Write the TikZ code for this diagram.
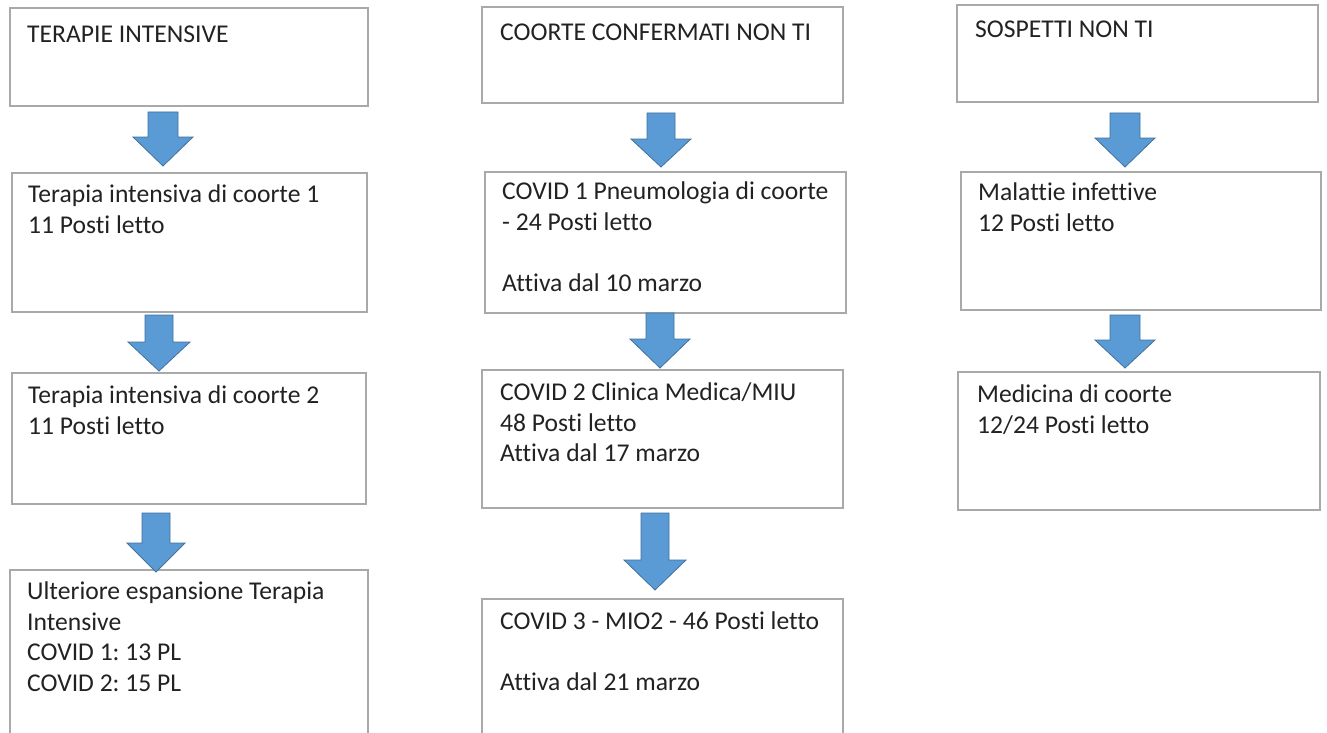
\documentclass[tikz,border=0pt]{standalone}
\usepackage{fontspec}
\setmainfont{Carlito}[Ligatures=NoCommon]
\frenchspacing
\definecolor{boxline}{HTML}{A9A9A9}
\definecolor{arrfill}{HTML}{5B9BD5}
\definecolor{arrline}{HTML}{41719C}
\definecolor{txt}{HTML}{222222}
\tikzset{
  box/.style={draw=boxline, line width=1.6pt, fill=white},
  lbl/.style={anchor=north west, inner sep=0pt, align=left, text=txt,
    font=\fontsize{25.6}{30.5}\selectfont,
    execute at begin node={\rule{0pt}{20pt}}},
  blockarr/.style={fill=arrfill, draw=arrline, line width=0.8pt, line join=miter}
}
% #1 cx, #2 top, #3 head start, #4 tip, #5 shaft half, #6 head half
\newcommand{\blockarrow}[6]{%
  \filldraw[blockarr] (#1-#5,#2) -- (#1+#5,#2) -- (#1+#5,#3) -- (#1+#6,#3)
    -- (#1,#4) -- (#1-#6,#3) -- (#1-#5,#3) -- cycle;}
% label whose first baseline is at (#2,#3)
\newcommand{\boxtext}[4]{\node[lbl] (#1) at (#2,#3-20) {#4};}
\begin{document}
\begin{tikzpicture}[x=1pt,y=-1pt]
\useasboundingbox (0,0) rectangle (1327,733);
\fill[white] (0,0) rectangle (1327,733);
\clip (0,0) rectangle (1327,733);

% column 1
\draw[box] (10,8) rectangle (368,106);
\boxtext{tA1}{27}{42}{TERAPIE INTENSIVE}
\draw[box] (12,173) rectangle (367,312);
\boxtext{tA2}{28}{205}{Terapia intensiva di coorte 1\\11 Posti letto}
\draw[box] (12,373) rectangle (366,504);
\boxtext{tA3}{28}{406}{Terapia intensiva di coorte 2\\11 Posti letto}
\draw[box] (10,570) rectangle (368,780);
\boxtext{tA4}{27}{602}{Ulteriore espansione Terapia\\Intensive\\COVID 1: 13 PL\\COVID 2: 15 PL}

\blockarrow{163}{112}{137}{166}{15}{30}
\blockarrow{159}{315}{342}{371}{14}{31}
\blockarrow{156}{513}{543}{572}{14}{29}

% column 2
\draw[box] (482,7) rectangle (843,103);
\boxtext{tB1}{500}{40}{COORTE CONFERMATI NON TI}
\draw[box] (485,172) rectangle (846,313);
\boxtext{tB2}{502}{202}{COVID 1 Pneumologia di coorte\\- 24 Posti letto\\[30.5pt]Attiva dal 10 marzo}
\draw[box] (482,370) rectangle (843,508);
\boxtext{tB3}{500}{403}{COVID 2 Clinica Medica/MIU\\48 Posti letto\\Attiva dal 17 marzo}
\draw[box] (482,599) rectangle (843,780);
\boxtext{tB4}{500}{632}{COVID 3 - MIO2 - 46 Posti letto\\[30.5pt]Attiva dal 21 marzo}

\blockarrow{661}{113}{139}{167}{14}{30}
\blockarrow{660}{313}{339}{368}{14}{30}
\blockarrow{655}{513}{560}{590}{14}{31}

% column 3
\draw[box] (957,5) rectangle (1318,102);
\boxtext{tC1}{975}{37}{SOSPETTI NON TI}
\draw[box] (961,172) rectangle (1321,310);
\boxtext{tC2}{978}{203}{Malattie infettive\\12 Posti letto}
\draw[box] (958,372) rectangle (1320,510);
\boxtext{tC3}{977}{405}{Medicina di coorte\\12/24 Posti letto}

\blockarrow{1125}{113}{138}{167}{15}{30}
\blockarrow{1125}{315}{340}{368}{15}{30}
\end{tikzpicture}
\end{document}
